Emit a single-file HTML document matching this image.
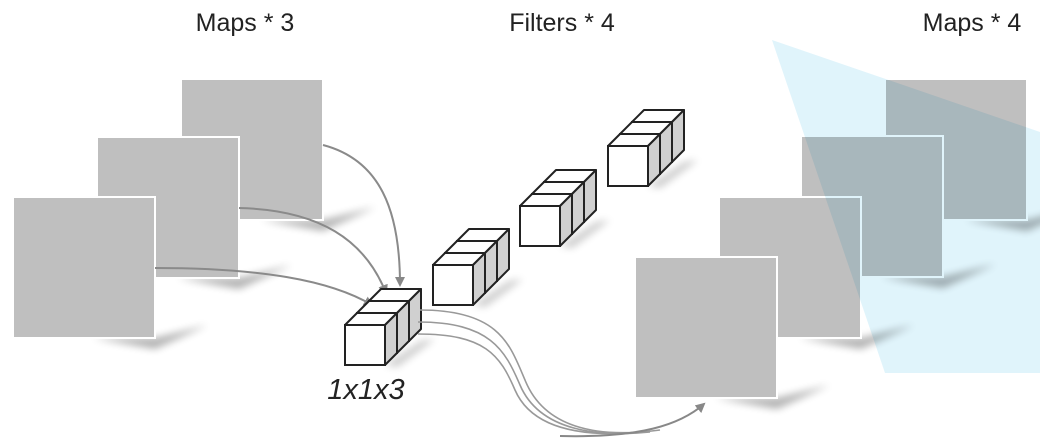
<!DOCTYPE html>
<html><head><meta charset="utf-8"><style>
html,body{margin:0;padding:0;background:#fff;}
svg{display:block;}
text{font-family:"Liberation Sans",sans-serif;}
</style></head><body>
<svg width="1040" height="442" viewBox="0 0 1040 442" xmlns="http://www.w3.org/2000/svg">
<defs>
<filter id="bl" x="-50%" y="-50%" width="200%" height="200%"><feGaussianBlur stdDeviation="4"/></filter>
<g id="c1">
 <polygon points="0,0 12,-12 52,-12 40,0" fill="#fff" stroke="#222" stroke-width="2" stroke-linejoin="round"/>
 <polygon points="40,0 52,-12 52,28 40,40" fill="#d0d0d0" stroke="#222" stroke-width="2" stroke-linejoin="round"/>
 <rect x="0" y="0" width="40" height="40" fill="#fff" stroke="#222" stroke-width="2"/>
</g>
<g id="stack">
 <polygon points="40,40 76,16 90,14 52,42" fill="#000" opacity="0.2" filter="url(#bl)"/>
 <use href="#c1" transform="translate(24,-24)"/>
 <use href="#c1" transform="translate(12,-12)"/>
 <use href="#c1"/>
</g>
<g id="map">
 <polygon points="80,141 142,141 195,128 142,152" fill="#000" opacity="0.3" filter="url(#bl)"/>
 <rect x="0" y="0" width="142" height="141" fill="#bfbfbf" stroke="#fff" stroke-width="2"/>
</g>
<marker id="ah" markerWidth="10" markerHeight="10" refX="8" refY="5" orient="auto" markerUnits="userSpaceOnUse">
 <path d="M0,0 L10,5 L0,10 z" fill="#888"/>
</marker>
</defs>

<text x="245" y="31" font-size="25" text-anchor="middle" fill="#222">Maps * 3</text>
<text x="562" y="31" font-size="25" text-anchor="middle" fill="#222">Filters * 4</text>
<text x="972" y="31" font-size="25" text-anchor="middle" fill="#222">Maps * 4</text>

<use href="#map" transform="translate(181,79)"/>
<use href="#map" transform="translate(97,137)"/>
<use href="#map" transform="translate(13,197)"/>

<use href="#map" transform="translate(885,79)"/>
<use href="#map" transform="translate(801,136)"/>
<use href="#map" transform="translate(719,197)"/>
<use href="#map" transform="translate(635,257)"/>

<polygon points="772,40 1040,132 1040,373 885,373" fill="#e0f4fb" style="mix-blend-mode:multiply"/>

<g fill="none" stroke="#8a8a8a" stroke-width="2">
 <path d="M323,145 C380,160 400,210 400,285" marker-end="url(#ah)"/>
 <path d="M239,208 C320,210 365,240 386,293" marker-end="url(#ah)"/>
 <path d="M155,268 C260,268 330,280 372,305" marker-end="url(#ah)"/>
</g>

<use href="#stack" transform="translate(608,146)"/>
<use href="#stack" transform="translate(520,206)"/>
<use href="#stack" transform="translate(433,265)"/>
<use href="#stack" transform="translate(345,325)"/>

<g fill="none" stroke="#999" stroke-width="1.6">
 <path d="M420,310 C500,310 510,345 525,380 C545,430 600,435 640,432"/>
 <path d="M418,322 C490,322 505,350 520,385 C540,432 600,437 650,432"/>
 <path d="M418,334 C485,334 500,355 515,390 C535,436 600,438 660,430"/>
</g>
<path d="M560,436 C640,438 680,425 704,404" fill="none" stroke="#888" stroke-width="2" marker-end="url(#ah)"/>

<text x="366" y="399" font-size="29" font-style="italic" text-anchor="middle" fill="#222">1x1x3</text>
</svg>
</body></html>
